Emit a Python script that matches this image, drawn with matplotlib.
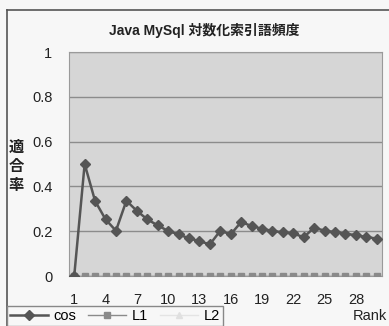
import matplotlib.pyplot as plt
from matplotlib.lines import Line2D
import numpy as np

plt.rcParams['font.family'] = ['Liberation Sans', 'Noto Sans CJK JP', 'DejaVu Sans']

# cos values read per rank (1..30)
ranks = list(range(1, 31))
cos = [0.0, 0.50, 0.335, 0.253, 0.202, 0.336, 0.291, 0.253, 0.226, 0.201,
       0.186, 0.168, 0.156, 0.141, 0.202, 0.186, 0.241, 0.223, 0.211, 0.201,
       0.195, 0.190, 0.173, 0.216, 0.202, 0.196, 0.189, 0.182, 0.174, 0.167]
l1 = [0.0] * 30
l2 = [0.0] * 30
xtick_vals = [1, 4, 7, 10, 13, 16, 19, 22, 25, 28]
ytick_vals = [0, 0.2, 0.4, 0.6, 0.8, 1]

fig = plt.figure(figsize=(3.89, 3.26), dpi=100)
fig.patch.set_facecolor('#f7f7f7')
ax = fig.add_axes([69 / 389, 50 / 326, 313 / 389, 224 / 326])
ax.set_facecolor('#d6d6d6')

ax.plot(ranks, l2, color='#e4e4e4', lw=1, marker='^', ms=5,
        mfc='#e0e0e0', mec='#e0e0e0', label='L2', zorder=3)
ax.plot(ranks, l1, color='#8a8a8a', lw=1, marker='s', ms=5,
        mfc='#8a8a8a', mec='#8a8a8a', label='L1', zorder=3)
ax.plot(ranks, cos, color='#555555', lw=1.8, marker='D', ms=5.5,
        mfc='#555555', mec='#555555', label='cos', zorder=4)

ax.set_xlim(0.5, 30.5)
ax.set_ylim(0, 1)
ax.set_yticks(ytick_vals)
ax.set_yticklabels(['0', '0.2', '0.4', '0.6', '0.8', '1'])
ax.set_xticks(xtick_vals)
ax.tick_params(length=0, labelsize=10.5, colors='#222222')
ax.tick_params(axis='y', pad=12)
ax.tick_params(axis='x', pad=12)
ax.yaxis.grid(True, color='#8c8c8c', lw=1)
ax.set_axisbelow(True)
for s in ax.spines.values():
    s.set_color('#9a9a9a')

fig.text(204 / 389, 1 - 30 / 326, 'Java MySql 対数化索引語頻度', fontsize=10,
         fontweight='bold', ha='center', va='center', color='#222222')
fig.text(16 / 389, 1 - 166 / 326, '適\n合\n率', fontsize=11, fontweight='bold',
         family=['Noto Sans CJK JP'], ha='center', va='center',
         linespacing=1.25, color='#222222')
fig.text(370 / 389, 1 - 316 / 326, 'Rank', fontsize=10.5, ha='center',
         va='center', color='#222222')

# outer chart frame
fig.add_artist(Line2D([7 / 389, 7 / 389], [0, 1 - 10 / 326], color='#555555', lw=1.2))
fig.add_artist(Line2D([7 / 389, 1], [1 - 10 / 326, 1 - 10 / 326], color='#555555', lw=1.2))

handles, labels = ax.get_legend_handles_labels()
leg = fig.legend(handles[::-1], labels[::-1], loc='upper left', ncol=3,
                 bbox_to_anchor=(7 / 389, 1 - 306 / 326), borderaxespad=0,
                 fontsize=10.5, frameon=True,
                 fancybox=False, edgecolor='#888888', framealpha=1,
                 facecolor='#f7f7f7', handlelength=2.6, columnspacing=0.8,
                 handletextpad=0.4, borderpad=0.2)
leg.get_frame().set_linewidth(1)

fig.savefig('out.png', dpi=100, facecolor=fig.get_facecolor())
